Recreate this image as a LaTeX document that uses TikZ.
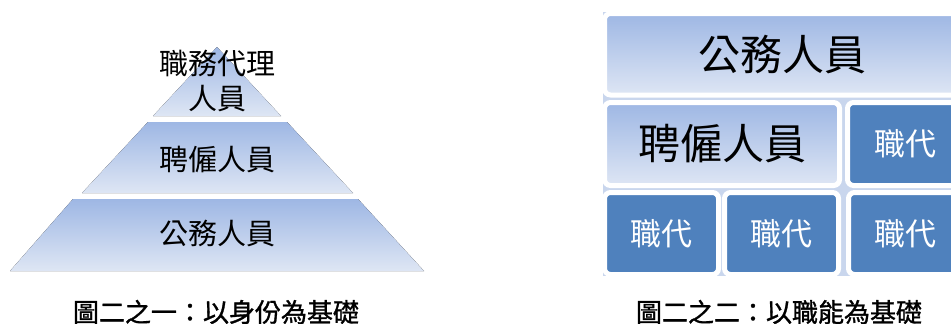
\documentclass[tikz,border=0pt]{standalone}
\usepackage{fontspec}
\setmainfont{Noto Sans CJK TC}
\newfontfamily\capfont[FakeBold=1.2]{Noto Sans CJK TC}
\definecolor{gtop}{RGB}{158,183,228}
\definecolor{gbot}{RGB}{222,230,244}
\definecolor{panel}{RGB}{201,214,237}
\definecolor{dark}{RGB}{79,129,189}
\tikzset{
  tier/.style={top color=gtop, bottom color=gbot, draw=none},
  lbl/.style={font=\fontsize{29}{35}\selectfont, align=center, inner sep=0pt, text=black},
  captext/.style={font=\capfont\fontsize{26}{30}\selectfont, inner sep=0pt, text=black},
  card/.style={rectangle, rounded corners=6pt, draw=white, line width=5pt, inner sep=0pt, outer sep=0pt},
  lightcard/.style={card, top color=gtop, bottom color=gbot, text=black, font=\fontsize{42}{48}\selectfont},
  darkcard/.style={card, fill=dark, text=white, font=\fontsize{31}{36}\selectfont},
}
\begin{document}
\begin{tikzpicture}[x=1pt,y=-1pt]
\useasboundingbox (0,0) rectangle (951,324);
% ---------- left: pyramid ----------
\coordinate (apex) at (217,47);
\fill[tier] (apex) -- (281,116) -- (153,116) -- cycle;
\fill[tier] (148,122) -- (287,122) -- (353,193) -- (82,193) -- cycle;
\fill[tier] (73,199) -- (358,199) -- (424,271) -- (10,271) -- cycle;
\node[lbl] (t1) at (217,80.5) {職務代理\\人員};
\node[lbl] (t2) at (217,160) {聘僱人員};
\node[lbl] (t3) at (217,233) {公務人員};
\node[captext] (c1) at (216,312) {圖二之一：以身份為基礎};
% ---------- right: blocks ----------
\begin{scope}
\clip (0,0) rectangle (951,324);
\fill[panel] (603,12) rectangle (965,275.5);
\node[lightcard, minimum width=355pt, minimum height=81.5pt] (gw) at (782,54.25) {公務人員};
\node[lightcard, minimum width=235pt, minimum height=83pt] (py) at (722,144) {聘僱人員};
\node[darkcard, minimum width=115pt, minimum height=83pt] (z1) at (905,144) {職代};
\node[darkcard, minimum width=114pt, minimum height=82pt] (z2) at (661.5,233.5) {職代};
\node[darkcard, minimum width=114pt, minimum height=82pt] (z3) at (781.5,233.5) {職代};
\node[darkcard, minimum width=114pt, minimum height=82pt] (z4) at (905.5,233.5) {職代};
\end{scope}
\node[captext] (c2) at (779,312) {圖二之二：以職能為基礎};
\end{tikzpicture}
\end{document}
